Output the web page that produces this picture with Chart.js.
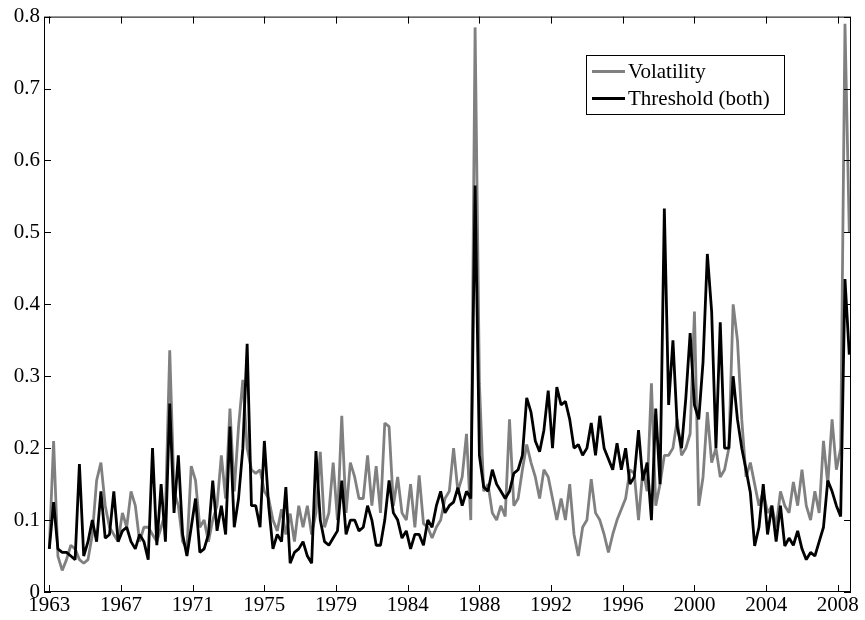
<!DOCTYPE html>
<html><head><meta charset="utf-8">
<script src="https://cdn.jsdelivr.net/npm/chart.js@4.4.1/dist/chart.umd.min.js"></script>
<style>html,body{margin:0;padding:0;background:#fff;}#wrap{width:865px;height:620px;}</style>
</head><body><div id="wrap"><canvas id="c" width="865" height="620"></canvas></div>
<script>
// months between successive readings (observations are monthly, read every 3 months)
const STEP_MONTHS = 3;
// x ticks: every 50 monthly observations
const xTickPositions = [0, 50, 100, 150, 200, 250, 300, 350, 400, 450, 500, 550];
const xTickLabels = ['1963','1967','1971','1975','1979','1984','1988','1992','1996','2000','2004','2008'];
const yTickValues = [0, 0.1, 0.2, 0.3, 0.4, 0.5, 0.6, 0.7, 0.8];
const seriesNames = ['Volatility', 'Threshold (both)'];

const volatility = [
0.06,0.21,0.05,0.03,0.045,0.065,0.06,0.045,0.04,0.045,
0.08,0.155,0.18,0.12,0.09,0.08,0.07,0.11,0.09,0.14,
0.12,0.07,0.09,0.09,0.08,0.07,0.09,0.11,0.336,0.14,
0.12,0.07,0.06,0.175,0.155,0.09,0.1,0.07,0.1,0.12,
0.19,0.13,0.255,0.14,0.23,0.295,0.2,0.17,0.165,0.17,
0.14,0.13,0.1,0.085,0.115,0.08,0.109,0.07,0.12,0.09,
0.12,0.08,0.11,0.195,0.09,0.11,0.18,0.1,0.245,0.11,
0.18,0.16,0.13,0.13,0.19,0.12,0.175,0.11,0.235,0.23,
0.12,0.16,0.11,0.1,0.15,0.09,0.162,0.095,0.09,0.075,
0.09,0.1,0.13,0.14,0.2,0.14,0.16,0.22,0.1,0.785,
0.29,0.14,0.15,0.11,0.1,0.12,0.105,0.24,0.12,0.13,
0.17,0.205,0.18,0.16,0.13,0.17,0.16,0.13,0.1,0.13,
0.1,0.15,0.08,0.05,0.09,0.1,0.157,0.11,0.1,0.08,
0.055,0.08,0.1,0.115,0.13,0.17,0.165,0.1,0.17,0.14,
0.29,0.12,0.15,0.19,0.19,0.2,0.24,0.19,0.2,0.22,
0.39,0.12,0.16,0.25,0.18,0.2,0.16,0.17,0.2,0.4,
0.35,0.24,0.16,0.18,0.15,0.12,0.14,0.11,0.12,0.09,
0.14,0.12,0.11,0.153,0.12,0.17,0.12,0.1,0.14,0.11,
0.21,0.15,0.24,0.17,0.2,0.79,0.5
];

const threshold = [
0.06,0.125,0.06,0.055,0.055,0.05,0.045,0.178,0.05,0.07,
0.1,0.07,0.14,0.075,0.08,0.14,0.07,0.085,0.09,0.07,
0.06,0.08,0.07,0.045,0.2,0.065,0.15,0.07,0.262,0.11,
0.19,0.08,0.05,0.09,0.13,0.055,0.06,0.08,0.155,0.085,
0.12,0.08,0.23,0.09,0.13,0.2,0.345,0.12,0.12,0.09,
0.21,0.12,0.06,0.08,0.07,0.146,0.04,0.055,0.06,0.07,
0.05,0.04,0.196,0.1,0.07,0.065,0.075,0.085,0.155,0.08,
0.1,0.1,0.085,0.09,0.12,0.1,0.065,0.065,0.1,0.155,
0.11,0.1,0.075,0.085,0.06,0.08,0.08,0.065,0.1,0.09,
0.12,0.14,0.11,0.12,0.125,0.145,0.12,0.14,0.13,0.565,
0.19,0.146,0.14,0.17,0.15,0.14,0.13,0.14,0.165,0.17,
0.19,0.27,0.25,0.21,0.195,0.225,0.28,0.2,0.285,0.26,
0.265,0.24,0.2,0.205,0.19,0.2,0.235,0.19,0.245,0.2,
0.185,0.17,0.207,0.17,0.2,0.15,0.16,0.225,0.155,0.18,
0.1,0.255,0.15,0.533,0.26,0.35,0.23,0.2,0.27,0.36,
0.26,0.24,0.32,0.47,0.39,0.2,0.375,0.2,0.2,0.3,
0.24,0.2,0.17,0.138,0.064,0.09,0.15,0.08,0.12,0.07,
0.12,0.064,0.075,0.065,0.085,0.06,0.045,0.055,0.05,0.07,
0.09,0.155,0.14,0.12,0.105,0.435,0.33
];

const toPoints = arr => arr.map((v, i) => ({x: i * STEP_MONTHS, y: v}));
const FONT = '"Liberation Serif", "Times New Roman", serif';

const framePlugin = {
  id: 'frame',
  afterDraw(chart) {
    const {ctx, chartArea: a, scales: {x, y}} = chart;
    ctx.save();
    ctx.strokeStyle = '#000';
    ctx.lineWidth = 1;
    ctx.strokeRect(a.left + 0.5, a.top + 0.5, a.right - a.left - 1, a.bottom - a.top - 1);
    const tl = 7;
    ctx.beginPath();
    xTickPositions.forEach(v => {
      const px = Math.round(x.getPixelForValue(v)) + 0.5;
      ctx.moveTo(px, a.bottom); ctx.lineTo(px, a.bottom - tl);
      ctx.moveTo(px, a.top); ctx.lineTo(px, a.top + tl);
    });
    yTickValues.forEach(v => {
      const py = Math.round(y.getPixelForValue(v)) + 0.5;
      ctx.moveTo(a.left, py); ctx.lineTo(a.left + tl, py);
      ctx.moveTo(a.right, py); ctx.lineTo(a.right - tl, py);
    });
    ctx.stroke();

    // legend box (inside plot, upper right)
    const bx = 586.5, by = 55.5, bw = 198, bh = 59;
    ctx.fillStyle = '#fff';
    ctx.fillRect(bx, by, bw, bh);
    ctx.strokeRect(bx, by, bw, bh);
    const rows = [71.5, 98.5];
    chart.data.datasets.forEach((ds, i) => {
      ctx.beginPath();
      ctx.strokeStyle = ds.borderColor;
      ctx.lineWidth = 2.8;
      ctx.moveTo(592, rows[i]); ctx.lineTo(625, rows[i]);
      ctx.stroke();
      ctx.fillStyle = '#000';
      ctx.font = '21px ' + FONT;
      ctx.textBaseline = 'middle';
      ctx.textAlign = 'left';
      ctx.fillText(ds.label, 628, rows[i] + 1);
    });
    ctx.restore();
  }
};

new Chart(document.getElementById('c'), {
  type: 'line',
  data: {
    datasets: [
      {label: seriesNames[0], data: toPoints(volatility), borderColor: '#808080', borderWidth: 2.8, pointRadius: 0, tension: 0, borderJoinStyle: 'bevel', order: 2},
      {label: seriesNames[1], data: toPoints(threshold), borderColor: '#000000', borderWidth: 2.8, pointRadius: 0, tension: 0, borderJoinStyle: 'bevel', order: 1}
    ]
  },
  options: {
    responsive: false,
    animation: false,
    devicePixelRatio: 1,
    layout: {padding: {top: 13, right: 14, left: 0, bottom: 0}},
    plugins: {legend: {display: false}, tooltip: {enabled: false}},
    scales: {
      x: {
        type: 'linear', position: 'bottom', min: -3.7, max: 559.2,
        grid: {display: false, drawTicks: false},
        border: {display: false},
        afterBuildTicks: s => { s.ticks = xTickPositions.map(v => ({value: v})); },
        afterFit: s => { s.height = 28; },
        ticks: {
          autoSkip: false, maxRotation: 0, padding: 1, color: '#000',
          font: {family: FONT, size: 21},
          callback: v => xTickLabels[xTickPositions.indexOf(v)]
        }
      },
      y: {
        min: 0, max: 0.8,
        grid: {display: false, drawTicks: false},
        border: {display: false},
        afterBuildTicks: s => { s.ticks = yTickValues.map(v => ({value: v})); },
        afterFit: s => { s.width = 44; },
        ticks: {
          padding: 4, color: '#000',
          font: {family: FONT, size: 21},
          callback: v => (v === 0 ? '0' : v.toFixed(1))
        }
      }
    }
  },
  plugins: [framePlugin]
});
</script></body></html>
